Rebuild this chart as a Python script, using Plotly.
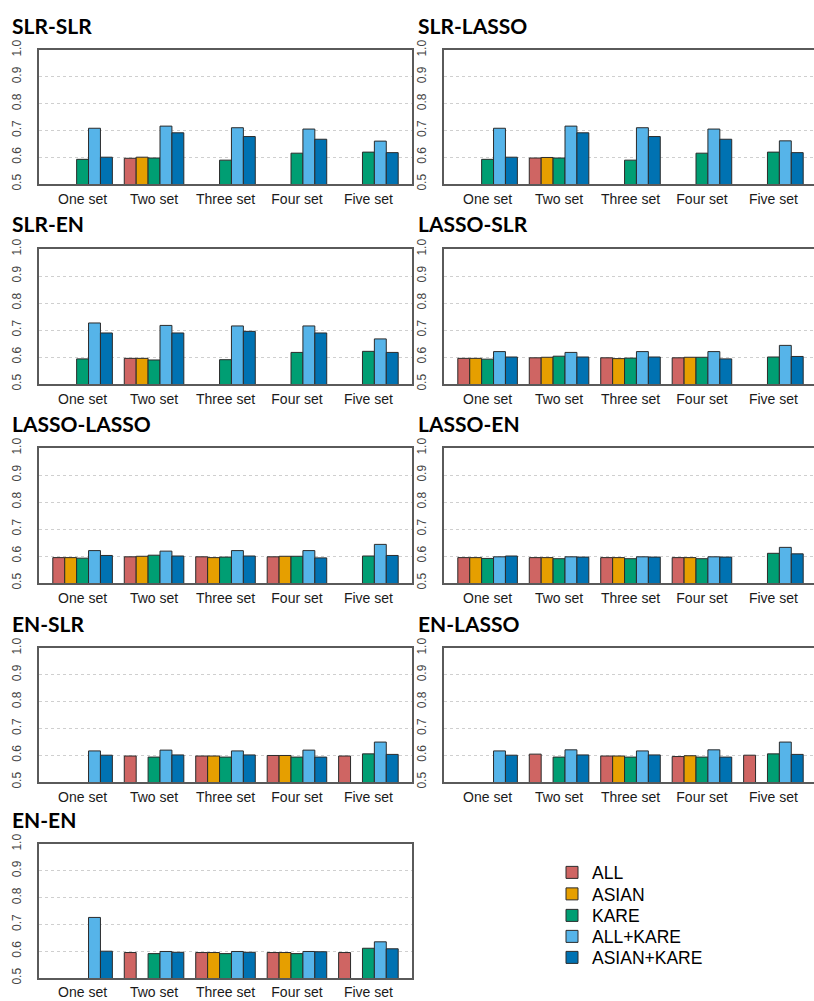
import plotly.graph_objects as go

W, H = 814, 1001

categories = ["One set", "Two set", "Three set", "Four set", "Five set"]
series = ["ALL", "ASIAN", "KARE", "ALL+KARE", "ASIAN+KARE"]
colors = ["#CF6563", "#E69F00", "#009E73", "#56B4E9", "#0072B2"]
y_ticks = [0.5, 0.6, 0.7, 0.8, 0.9, 1.0]
y_ticktext = ["0.5", "0.6", "0.7", "0.8", "0.9", "1.0"]
panel_titles = ["SLR-SLR", "SLR-LASSO", "SLR-EN", "LASSO-SLR", "LASSO-LASSO",
                "LASSO-EN", "EN-SLR", "EN-LASSO", "EN-EN"]

# values per panel: one list per series (ALL, ASIAN, KARE, ALL+KARE, ASIAN+KARE)
slr_slr = [
    [None, 0.596, None, None, None],
    [None, 0.600, None, None, None],
    [0.592, 0.597, 0.589, 0.615, 0.619],
    [0.708, 0.716, 0.710, 0.705, 0.660],
    [0.600, 0.691, 0.677, 0.667, 0.617],
]
slr_lasso = [
    [None, 0.597, None, None, None],
    [None, 0.599, None, None, None],
    [0.592, 0.597, 0.589, 0.615, 0.619],
    [0.708, 0.716, 0.710, 0.705, 0.661],
    [0.600, 0.691, 0.677, 0.667, 0.617],
]
slr_en = [
    [None, 0.595, None, None, None],
    [None, 0.595, None, None, None],
    [0.593, 0.589, 0.590, 0.617, 0.621],
    [0.726, 0.717, 0.715, 0.715, 0.667],
    [0.689, 0.689, 0.695, 0.689, 0.617],
]
lasso_slr = [
    [0.595, 0.597, 0.597, 0.597, None],
    [0.595, 0.599, 0.594, 0.599, None],
    [0.592, 0.603, 0.596, 0.599, 0.600],
    [0.620, 0.617, 0.620, 0.620, 0.643],
    [0.600, 0.600, 0.600, 0.593, 0.602],
]
lasso_lasso = [
    [0.594, 0.597, 0.597, 0.597, None],
    [0.594, 0.599, 0.594, 0.599, None],
    [0.592, 0.603, 0.596, 0.599, 0.600],
    [0.620, 0.618, 0.620, 0.620, 0.643],
    [0.602, 0.600, 0.600, 0.593, 0.602],
]
lasso_en = [
    [0.594, 0.594, 0.594, 0.594, None],
    [0.594, 0.594, 0.594, 0.594, None],
    [0.591, 0.590, 0.590, 0.590, 0.610],
    [0.597, 0.597, 0.597, 0.597, 0.632],
    [0.600, 0.596, 0.596, 0.596, 0.608],
]
en_slr = [
    [None, 0.597, 0.597, 0.599, 0.597],
    [None, None, 0.597, 0.599, None],
    [None, 0.593, 0.593, 0.593, 0.605],
    [0.616, 0.619, 0.616, 0.619, 0.649],
    [0.600, 0.601, 0.601, 0.593, 0.603],
]
en_lasso = [
    [None, 0.604, 0.597, 0.595, 0.600],
    [None, None, 0.597, 0.598, None],
    [None, 0.593, 0.593, 0.593, 0.605],
    [0.616, 0.620, 0.616, 0.620, 0.649],
    [0.600, 0.601, 0.601, 0.593, 0.603],
]
en_en = [
    [None, 0.595, 0.595, 0.595, 0.595],
    [None, None, 0.595, 0.595, None],
    [None, 0.591, 0.591, 0.591, 0.611],
    [0.726, 0.599, 0.599, 0.599, 0.635],
    [0.600, 0.596, 0.596, 0.598, 0.609],
]
panels = [slr_slr, slr_lasso, slr_en, lasso_slr, lasso_lasso,
          lasso_en, en_slr, en_lasso, en_en]

# layout geometry (pixels)
col_x = [(39, 412), (444, 814)]
row_y = [(50, 184), (249, 384), (448, 583), (648, 782), (844, 978)]
px_per_unit = (412 - 39) / (4.61 + 0.61)
legend_y = [872.5, 894, 915.5, 936.5, 957.5]
legend_names = ["legend", "legend2", "legend3", "legend4", "legend5"]

fig = go.Figure()
annotations = []
for i, (title, data) in enumerate(zip(panel_titles, panels)):
    r, c = divmod(i, 2)
    n = i + 1
    xa = "x" if n == 1 else f"x{n}"
    ya = "y" if n == 1 else f"y{n}"
    for s, (name, col) in enumerate(zip(series, colors)):
        fig.add_trace(go.Bar(
            x=categories, y=data[s], name=name,
            marker=dict(color=col, line=dict(color="#2b2b2b", width=1)),
            xaxis=xa, yaxis=ya, legendgroup=name, showlegend=(i == 0),
            legend=legend_names[s],
        ))
    x0, x1 = col_x[c]
    y0, y1 = row_y[r]
    xr_end = -0.61 + (x1 - x0) / px_per_unit
    fig.layout[f"xaxis{'' if n == 1 else n}"] = dict(
        domain=[x0 / W, x1 / W], anchor=ya, type="category",
        range=[-0.61, xr_end], showline=True, mirror=True,
        linecolor="#5a5a5a", linewidth=1.5, ticks="", showgrid=False,
        automargin=False, ticklabelstandoff=(0 if r == 4 else 1),
        tickfont=dict(family="Liberation Sans", size=14, color="#1a1a1a"),
        fixedrange=True,
    )
    fig.layout[f"yaxis{'' if n == 1 else n}"] = dict(
        domain=[1 - y1 / H, 1 - y0 / H], anchor=xa,
        range=[0.5, 1.0], tickvals=y_ticks, ticktext=y_ticktext,
        tickangle=-90, showline=True, mirror=True,
        linecolor="#5a5a5a", linewidth=1.5, ticks="",
        showgrid=True, gridcolor="#cfcfcf", griddash="dot", gridwidth=1,
        zeroline=False, ticklabelstandoff=11, automargin=False,
        tickfont=dict(family="Liberation Sans", size=12, color="#444444"),
        fixedrange=True,
    )
    annotations.append(dict(
        text=f"<b>{title}</b>", xref="paper", yref="paper",
        x=(10 if c == 0 else 416) / W, y=1 - (y0 - 25) / H,
        xanchor="left", yanchor="middle", showarrow=False,
        font=dict(family="Lato", size=21, color="#000000"),
    ))

legend_style = dict(
    xanchor="left", yanchor="middle",
    font=dict(family="Liberation Sans", size=17.5, color="#000000"),
    bgcolor="rgba(0,0,0,0)",
)
layout_legends = {}
for ln, ly in zip(legend_names, legend_y):
    layout_legends[ln] = dict(x=552 / W, y=1 - ly / H, **legend_style)

fig.update_layout(
    width=W, height=H, margin=dict(l=0, r=0, t=0, b=0, autoexpand=False),
    paper_bgcolor="white", plot_bgcolor="white",
    barmode="group", bargap=1 / 6, bargroupgap=0,
    annotations=annotations,
    showlegend=True,
    **layout_legends,
)

fig.write_html("out.html")
